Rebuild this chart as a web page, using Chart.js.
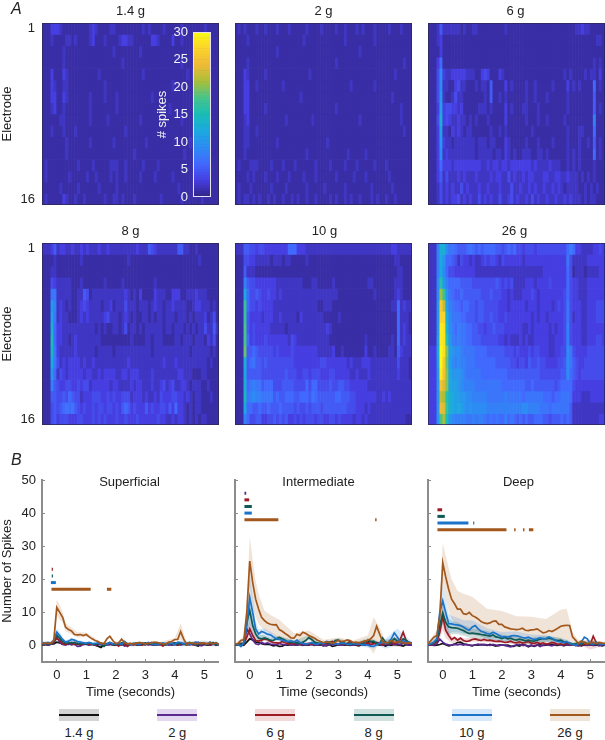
<!DOCTYPE html>
<html>
<head>
<meta charset="utf-8">
<title>Spikes by force</title>
<script src="https://cdn.jsdelivr.net/npm/chart.js@4"></script>
<style>
html, body { margin: 0; padding: 0; background: #fff; width: 605px; height: 740px; overflow: hidden; }
canvas, .txt, .key { position: absolute; }
canvas.soft { filter: blur(.55px); }
canvas.line { filter: blur(.3px); }
.txt { font-family: "Liberation Sans", sans-serif; color: #222; font-style: italic; font-size: 16px; line-height: 18px; }
.key .lbl { position: absolute; top: 16px; left: -10px; width: 60px; text-align: center; font: 13px/16px "Liberation Sans", sans-serif; color: #222; }
.key .band { position: absolute; left: 0; top: 0; width: 40px; height: 12px; }
.key .mid { position: absolute; left: 0; top: 5px; width: 40px; height: 2px; }
</style>
</head>
<body>
<script>
// force levels
const forces = ["1.4 g", "2 g", "6 g", "8 g", "10 g", "26 g"];
const lineColors = ["#111111", "#5b2a91", "#9c1c24", "#0f5a54", "#1b74c9", "#a2581c"];
const bandColors = ["rgba(60,60,60,.22)", "rgba(100,40,170,.18)", "rgba(190,40,50,.18)", "rgba(15,100,90,.2)", "rgba(30,130,225,.18)", "rgba(170,100,40,.18)"];
const electrodeTicks = ["1", "16"];

// time bins in seconds
const timeBins = [-.5,-.4,-.3,-.2,-.1, 0,.1,.2,.3,.4,.5,.6,.7,.8,.9, 1,1.1,1.2,1.3,1.4,1.5,1.6,1.7,1.8,1.9, 2,2.1,2.2,2.3,2.4,2.5,2.6,2.7,2.8,2.9, 3,3.1,3.2,3.3,3.4,3.5,3.6,3.7,3.8,3.9, 4,4.1,4.2,4.3,4.4,4.5,4.6,4.7,4.8,4.9, 5,5.1,5.2,5.3,5.4,5.5];

// heatmaps, one string per electrode, one base 36 digit per bin = # spikes
const heat14 = [
"1113332111 1111112321 1112211111 1111212111 1211111211 1111121111",
"1112111122 1211112311 1211112332 2111111332 1111311211 1111111111",
"1111111211 1111111111 1111211111 1112111111 1111111111 1111211111",
"1111111211 1111111111 1111111211 1111111111 1111111211 1111111111",
"1113111321 1111111112 1111111111 1111211111 1111111112 1211111111",
"1113211221 1111111111 1211111111 1111111111 1111211111 1111111111",
"1113311321 1111112111 1211121111 1111111211 1111111111 1121111111",
"1112311211 1111112111 1111121111 1111111111 1112111111 1111111111",
"1111112211 1111112111 1121111111 1112111111 1111111211 1111111111",
"1112111211 1211111111 1111111121 1111111111 1111111111 1111211111",
"1111111121 1111112111 1111211111 1111121111 1111111111 2111111111",
"1111111121 1111111111 1111111111 1211111111 1111111121 1111111111",
"1211111111 1121111211 1112221121 1111211112 1111111111 1121211111",
"1211111112 1111121121 1112121121 1112111121 1111211111 1111121111",
"1111112111 1121111112 1111121111 1111111111 1111112111 1111112111",
"1211111321 1211211111 1211221211 1211111111 2111111211 1111211111"];
const heat2 = [
"1212111211 2111211121 1111211112 1111211211 1212111211 1121112111",
"1111211111 1111111111 1112111111 1111111211 1111111211 1111111111",
"1111111111 1111211111 1111111111 1111111111 1121111111 1111111111",
"1111211111 1111111111 1111111111 1111211111 1111111111 1111111211",
"1113211111 2111111111 1111121111 1111111111 1111111111 1111211111",
"1113311211 1111112111 1111111111 1111111112 1111111211 1111111111",
"1113311111 1111111111 1121111111 1111111111 1111111111 1112111111",
"1113311111 2111111111 1111111111 1111211111 1111111111 1111112111",
"1112311111 1111111211 1111112111 1111111111 1121111111 1111112111",
"1112211211 1111111111 1111111111 1111111111 1111111111 1111111211",
"1112211111 1111211111 1111111111 1211111111 1111111111 1111111111",
"1112111111 1111111111 1111211111 1111111121 1111211111 1111111111",
"1211122211 1121112111 2111111211 1121111211 1211111211 1211111111",
"1111212111 2111211121 1112111211 1111211111 2111211111 1121111111",
"1211121111 1121111211 1111211111 2111111211 1111112111 1112111111",
"1212212121 1212112112 1211211211 1121211212 1121112121 1211211111"];
const heat6 = [
"1112522222 2121122111 1111112111 1111111111 1111111111 2232211111",
"1112311111 1111111111 1111111111 1111111111 1111111111 1111111221",
"1111311111 1111111111 1111111111 1111111111 1111111111 1111111111",
"1113611111 1111111111 1111111111 1111111111 1111111111 1111112121",
"1114932233 3332221134 3111321111 1111111111 1111112121 1112122131",
"1114922113 4221112122 1511113121 1112112111 1121111312 1211116121",
"1114a21124 2211111112 1511212111 1112112111 2111111211 1111115111",
"1113b34433 2311111222 1211113121 1122111211 1111111211 1111115121",
"1114d34322 3221212111 2111113111 1112111211 2111112111 1111118111",
"1113b22132 3212211111 1211212111 1111121111 1111111211 1221116111",
"1113a32212 2222221222 1221113211 1112111211 1121111211 1211215121",
"1113923222 2222221222 2212213212 1122211221 2111111212 1211116121",
"1113633323 3333333322 3233233233 3333323222 2322211212 1211112111",
"1113524222 3232223222 2323322423 2232332223 3223322322 2121212111",
"1112423232 2423222322 3222322242 2322323223 2232321222 2112121211",
"1112423233 4232322423 2322422342 3223242322 3223223232 2212122111"];
const heat8 = [
"2223523322 3223232223 2232222222 2232225432 2222225522 1121111111",
"1111211111 1112111111 1111111112 1111111111 1111111111 1112111111",
"1112211111 1111111111 1111111111 1111111111 1111111111 1111111111",
"1114322222 1112111111 1211111211 1111111121 1111111111 1111111111",
"1117722222 1122541222 2222222232 1213111132 2211333112 2232221111",
"111a823212 1123432222 1223122242 2212221232 2122322221 1233222121",
"111b723221 1123232222 2342221232 1211221212 2122212221 2122231241",
"111d633222 2222222212 1211221241 2212122222 2122122212 1212242252",
"111f633221 2322222222 1111111111 2111122122 2111122122 2122213241",
"111e732222 2322222212 2222122222 2222222122 2222222222 1222222121",
"111c742323 3332322322 2222222223 2222222222 2322232222 2222221211",
"111a624323 3333233223 2333322332 3332222322 2222223322 2111221111",
"1118543344 3343442333 3332332222 3233222322 3423422332 1222112111",
"1115544546 5442333444 3343433444 2333232232 4333443323 2122111211",
"1114545676 7543433434 4344343565 3433353433 4435363321 2122111111",
"1114534443 3344333434 3433343343 3343333334 3322323321 2121221111"];
const heat10 = [
"2225544344 3333333366 6333222222 2222222222 2222222222 2223322222",
"1114433222 2212221221 1111211111 1111111111 1111111111 1111221111",
"1115222111 1111111111 1111111111 1111111111 1111111111 1111122111",
"1118544333 3333222222 2221112211 1112111111 1111122111 1111222111",
"111c644543 3433232222 2222222222 2222211111 1111111211 1111232111",
"111h644343 3332222222 2222222211 2221111111 1111111111 1112262322",
"111h533332 3332232222 2132222222 1111121111 1111111111 1111162221",
"111i534333 3322222122 2222222222 2321111111 1111111111 1111162321",
"111i634333 4333333324 3222222222 2211111111 1111211111 1112162322",
"111j556544 4443433334 3333333322 2223112111 1111311211 1122153222",
"111d567554 5444444444 3333333334 4333333323 2223332222 2222242221",
"111c555554 4444444544 4334434443 3344333332 2322232222 2222232221",
"111d678775 6664445555 4444646644 4454455443 3333322222 2222222222",
"111e789887 7775655666 5566657655 5555665554 4333333322 3232222222",
"111c665565 5655565555 4544545554 5555555544 4333232222 2222222222",
"1118644553 3445454533 4343444344 3344343333 2332322222 2222222211"];
const heat26 = [
"2228dd9776 5556765656 6665545656 4434443444 4444444686 3322223343",
"2228ca6654 2433232234 3443243333 3323333333 3333333742 2222333333",
"2228c96443 3333332222 2222222222 2222222223 3333333641 2221222233",
"2229ga8666 6555544444 4445434342 2223332333 3433333643 3222333333",
"2229lha765 5655555544 4544433232 2233343233 3333334643 3222333333",
"222aqmb876 6566554554 4444333233 3332333233 3323434743 3322333444",
"222arrd977 7665554554 4544334333 3333323233 2333334742 3322333444",
"222atse986 8776655443 4454443333 3322323333 3232334843 3322333333",
"222btsga87 8776655544 4444332322 2323223333 3223334843 3322333443",
"333cuskba9 9877776666 5555554443 4333434433 3223344974 3333444444",
"333buqjb98 9887776666 6665555544 3443544544 3333445975 4334444444",
"333atpkcaa a987777766 6666666555 5555555544 4444455965 4344444444",
"333apnkcbb a988887777 7777766666 6665565555 5554566664 3333333333",
"333amlgdcb baa9988888 7777778777 7767777776 6656677763 3322233333",
"333aonhdcb cba9a99999 8888888888 8899888877 7677777752 2222222222",
"333ailfa98 8887787887 6767668676 5656556665 5455565652 2222222233"];

// mean spikes per bin, order: 1.4 g, 2 g, 6 g, 8 g, 10 g, 26 g
const superficial14 = [.2,.3,.1,.4,.5, 1,.8,.4,.5,.3,.6,.9,.4,.2,.3, .5,.2,.3,.1,-.2,-.6,.2,.3,.4,.2, .1,.3,.2,.4,.1,.3,.5,.2,.1,.4, .2,.6,.3,.1,.2,.4,.1,.3,.5,.2, .3,.1,.6,.4,.2,.3,.5,.1,-.2,.4, .3,.1,.2,.5,.1,.3];
const superficial2 = [.3,.5,.1,.4,.8, 2.5,1,.3,.1,.5,.2,.4,-.3,-.2,.4, .3,.2,.5,.1,.3,.4,.2,.1,.3,.5, .2,.3,.4,-.2,.1,.3,.2,.4,.1,.3, .5,.2,.3,.1,.4,.2,.5,.3,.1,.2, .4,.6,.1,.3,.5,.2,.4,.1,.3,-.1, .2,.5,.1,.3,.4,.2];
const superficial6 = [.6,.3,.8,.5,.9, 2.2,1.5,.6,.3,.8,.5,.3,.6,.2,.7, .4,.3,.5,.2,.6,.8,.1,.4,.7,.3, .5,-.2,.6,.3,-.3,.5,.2,.7,.4,.1, .6,.3,.9,.5,.2,.4,-.2,.6,.3,.5, .8,.1,.4,.6,.3,.7,.2,.5,.9,.3, .4,.6,.1,.7,.3,.5];
const superficial8 = [.5,.7,.4,.6,1.2, 3.2,2.2,1.2,.8,.7,.9,.8,.6,.5,.7, .4,.8,.6,.3,.7,.2,-.3,.5,.9,.4, .6,.3,.8,1,.4,.3,.5,.7,.2,.5, .8,.4,.6,.3,.9,.5,.4,.2,.6,.5, .8,.4,.7,.3,.5,.9,.6,.2,.4,.8, .5,.3,.6,.9,.2,.5];
const superficial10 = [.8,.5,.9,.6,1.5, 4,3,1.8,1,1.3,1.8,1.6,1.2,1,.8, .7,.9,.5,.6,.8,.4,.6,.3,.9,.5, .4,.7,.3,1.2,.5,.2,.7,.5,.3,.8, .4,.9,.6,.3,.2,.5,.8,.4,.5,.7, .3,1,.9,.5,.7,.3,.6,1,.9,.5, .8,.3,1,.4,.9,.2];
const superficial26 = [.5,.8,.6,.7,1.5, 11.5,10,8.5,5.5,4.8,4.4,3.3,3.2,3.3,3, 3.3,2.6,2,1.5,1.2,.6,.5,2,2.8,1.5, .5,.8,1.9,.8,.5,.6,.4,.7,.9,.7, .5,.6,.8,1,.9,.7,.4,.5,1,1.2, 1.8,1.8,4.2,2,.4,.8,.8,.5,.6,.8, .7,.4,.9,.5,.8,.3];

const intermediate14 = [.1,.2,0,.1,1, 2,1.7,1,.9,.5,.3,.4,.2,-.1,.1, -.3,-.2,.2,.1,.3,.2,.1,.3,0,.2, .1,.3,0,.2,.1,.2,-.1,.3,-.3,-.1, .2,.3,.1,.2,0,.2,.1,-.1,.3,.1, 1,1.2,.9,.4,.1,.3,-.2,.2,.1,.3, .2,.1,-.2,.3,.1,.2];
const intermediate2 = [.1,.3,.2,.5,5, 3.5,1.6,.5,.3,1,.5,.8,.4,.3,.2, .6,.3,.2,.4,.1,.3,.2,.4,.1,.3, .2,.5,.1,.2,.3,-.2,.1,.3,.2,.4, .2,.1,.3,.4,.2,.1,.3,.2,.5,.1, .4,.2,.6,.8,.3,.1,.4,.2,.6,.3, .5,.2,.8,.3,.1,.2];
const intermediate6 = [.4,.1,.6,.5,2.5, 5,3,1.5,1.3,1.6,2,1.8,1.2,.9,.8, .7,1.2,.8,.5,.6,.5,.9,.4,.7,.3, .6,.4,.8,.5,.3,.4,.6,.9,1.2,.5, .4,.7,.3,.5,1.3,.6,.4,.2,1,.4, .8,.3,.5,.9,.6,.2,.7,.4,1,.6, 1,1.8,4,1.5,.8,.6];
const intermediate8 = [.3,.2,.5,.6,7, 10.5,6,3.5,2.2,2,2.3,2,1.6,1.5,2, 2.4,2,1.6,1,.9,1,.7,.6,1,1.5, 2.4,1.8,1,.7,.5,.6,.9,.7,.5,1.5, 1.7,.8,.7,.4,.6,.4,.8,.7,.5,1, 1.6,1.2,1.3,.7,.5,2.3,1,.6,1,2.1, 1.3,.9,2,1.6,.8,.6];
const intermediate10 = [.2,.4,-.3,.8,6, 14.5,10,5,3.5,4.2,3.9,3.4,3.2,2.6,2, 1.8,1.6,1.3,1.2,1.4,1,1.6,.9,.6,.4, .6,.9,.5,.4,.8,.5,1.2,1,.6,.5, .4,.7,.6,.4,.3,.6,.4,.5,.2,.3, .1,-.2,-.3,.2,.6,1.2,.5,.9,2,3.8, 2.6,1,1.4,.9,1,.5];
const intermediate26 = [.3,.6,1.5,1.8,10, 25.5,19,14,11,8.5,7.5,6.8,6.4,6.2,6.3, 4.8,4.3,3.6,3,2.3,2.2,3.4,3,4,3.6, 3,2.6,2.2,1.6,1.2,.9,1,1,.7,.9, 1.6,1.2,1.3,1.7,1.5,.9,1,.8,1,1.4, 1.5,2,3,5.8,3.5,1.2,.8,.9,1.5,.9, 1,1.2,.8,.7,.8,.6];

const deep14 = [.1,.2,0,.1,.3, .6,.2,-.1,.1,.4,.9,1,.5,.3,.1, -.1,.2,.1,.3,.2,0,.3,.1,-.2,.1, .2,0,.1,-.2,-.3,.1,-.2,.2,.1,-.4, 0,-.3,.1,.2,0,.1,.2,.3,.1,0, .3,-.1,.2,.1,.2,0,.1,-.1,.2,.1, .2,0,.1,.2,-.1,.1];
const deep2 = [0,.2,.1,.5,1.9, 1,.4,.2,.1,.3,.2,.4,.1,.3,.1, 0,.2,.4,.1,.3,.2,0,.3,.1,-.1, .2,.1,-.2,-.4,-.1,.2,.3,0,.1,-.2, .1,-.1,.2,-.3,.1,.3,.1,-.1,.2,.3, .2,.1,.3,0,.2,.1,-.1,.2,.3,0, .2,.1,.3,-.1,.2,.1];
const deep6 = [.1,.3,.6,1,4, 8.7,4.6,3,1.8,2.4,1.6,2.2,1.5,1.2,1.4, 1.8,2,1.7,1.5,1.8,1.5,1.6,1.4,1.2,1.3, 1.2,.9,1,1.3,.9,.8,1.1,.7,.9,1.2, .7,.6,.9,.5,.8,.4,.6,.9,.7,.3, .5,.2,.7,.4,.1,.3,.6,.2,.4,.5, .3,2.8,.9,.4,.6,.3];
const deep8 = [.3,.4,.8,1.5,6, 9.8,7,5.6,5.4,5.3,5.2,4.8,4.5,4,3.6, 3.7,3.6,3.5,3.3,3.2,3,2.8,3.2,2.6,2.4, 2.1,2.4,2,2.2,1.8,1.6,1.9,1.7,1.4,1.6, 1.4,1.3,1.6,1.9,2.1,2,2.2,2,1.7,1.5, 1.6,1.1,.9,.7,.5,.4,.8,.3,1,.6, .4,.7,.3,.6,.5,.4];
const deep10 = [.2,.5,1,2,10, 13.5,10,6.6,6.5,6.3,6.2,6,5.6,5,4.6, 5.6,6,5,4.3,4,3.6,3.4,4,3.6,3.1, 2.6,2.7,2.5,2.8,3,2.9,2.7,2.4,2.2,2.5, 2.1,1.8,2,2.3,2,2.1,2.6,2.2,1.5,1.2, 1.1,.8,1.2,.6,.3,0,.5,1,2.5,2, .6,.4,1,.5,.3,.5];
const deep26 = [.5,1.5,2.5,3,9, 25,20.7,17,14,12.6,11,11,9.6,9.4,10, 9,8.6,8,7.2,6.8,6.6,6.8,7.3,7.4,6.4, 6.4,5.6,5.3,5,4.9,4.8,4.9,5.2,4.6,4.5, 4.7,4.8,5,4.4,3.8,4,4.5,4.2,4.7,5.2, 5.8,6,6.1,6,2.6,1.6,.6,1.4,.8,.5, .8,1,.6,.9,.7,.6];

// shaded error half widths, read at these bins only
const bandBins = [0,3,4,5,6,7,8,10,12,15,20,25,30,35,40,45,47,49,51,55,60];
const superficial10Sem = [.6,.6,.8,1.2,1,.6,.5,.5,.5,.5,.5,.4,.5,.5,.5,.5,.5,.6,.6,.7,.6];
const superficial26Sem = [.4,.5,.8,2.4,2.2,1.5,1.2,1,.8,.6,.4,.8,.4,.4,.4,.4,2.5,.6,.4,.4,.4];
const intermediate6Sem = [.3,.5,1.5,2.5,1.8,.8,.6,.6,.4,.4,.4,.4,.5,.5,.4,.4,.5,.5,.6,1.5,.5];
const intermediate8Sem = [.3,.5,3,4.5,3,1.5,1,.8,.7,.6,.5,.7,.4,.5,.4,.6,.6,.5,.8,1.2,.4];
const intermediate10Sem = [.3,.8,4,7,5,2.5,1.5,1.2,1,.7,.6,.5,.5,.4,.5,.8,.6,.8,1.5,2.5,.6];
const intermediate26Sem = [.3,1,4,7.5,7,5.5,4.5,3,2.8,3,1.5,1.5,.8,.8,.6,1.5,5.5,2,.6,.7,.4];
const deep6Sem = [.2,.4,2,4,2.5,1.5,1,.8,.6,.6,.5,.4,.4,.4,.4,.3,.3,.3,.3,1.5,.3];
const deep8Sem = [.3,.6,2.5,3.5,3,2.5,2,1.8,1.6,1.5,1.4,1.2,1,1,.9,.7,.5,.4,.4,.4,.3];
const deep10Sem = [.3,.8,4,5,4.5,3,2.5,2.2,2,2,1.6,1.5,1.3,1.2,1,1,.6,.5,.6,.5,.4];
const deep26Sem = [.5,1.5,3,6,6.5,6.5,6,5.5,6,5.7,4.5,4,4,4,4,5,5,1.5,1,.8,.5];

// significance bars: force index, height, then from/to pairs in seconds
const superficialSig = [[5,17,-.18,1.15,1.7,1.85],[4,19,-.2,-.03],[3,21,-.17,-.13],[2,23,-.17,-.13]];
const intermediateSig = [[5,38,-.18,.97,4.25,4.3],[4,40,-.18,.07],[3,42,-.18,.07],[2,44,-.18,-.02],[1,46,-.18,-.12]];
const deepSig = [[5,35,-.18,2.16,2.42,2.47,2.72,2.77,2.92,3.07],[4,37,-.18,.87,1.03,1.07],[3,39,-.18,.07],[2,41,-.18,-.02]];

const spikeTicks = [0,10,20,30,40,50];
const timeTicks = [0,1,2,3,4,5];
const colorbarTicks = 5;
const colorbarMax = 30;

Chart.defaults.font.family = '"Liberation Sans", sans-serif';
Chart.defaults.font.size = 13;
Chart.defaults.color = '#222';
Chart.defaults.animation = false;

// y tick labels must not push the plot area in
const flatTicks = { size: 13, lineHeight: .1 };

// parula, roughly
const parulaStops = [[50,38,135],[70,62,225],[66,105,254],[45,140,243],[28,169,223],[25,189,182],[72,196,137],[170,191,57],[240,186,55],[250,212,42],[249,251,20]];
function parula(v) {
    const t = Math.max(0, Math.min(1, v / colorbarMax)) * 10;
    const i = Math.min(9, Math.floor(t));
    const f = t - i;
    const c = parulaStops[i].map((a, k) => Math.round(a + (parulaStops[i + 1][k] - a) * f));
    return 'rgb(' + c.join(',') + ')';
}

const caption = {
    id: 'caption',
    afterDraw(chart, args, opts) {
        if (!opts.text) return;
        const a = chart.chartArea, ctx = chart.ctx;
        ctx.save();
        ctx.font = '13px "Liberation Sans", sans-serif';
        ctx.fillStyle = '#222';
        ctx.textAlign = 'center';
        ctx.textBaseline = 'middle';
        ctx.fillText(opts.text, (a.left + a.right) / 2 + (opts.dx || 0), a.top + opts.dy);
        ctx.restore();
    }
};
const outline = {
    id: 'outline',
    afterDraw(chart, args, opts) {
        const a = chart.chartArea, ctx = chart.ctx;
        ctx.save();
        ctx.strokeStyle = opts.color;
        ctx.lineWidth = 1;
        ctx.strokeRect(a.left + .5, a.top + .5, a.right - a.left - 1, a.bottom - a.top - 1);
        ctx.restore();
    }
};

function newCanvas(x, y, w, h, cls) {
    const c = document.createElement('canvas');
    c.width = w; c.height = h;
    c.className = cls;
    c.style.left = x + 'px'; c.style.top = y + 'px';
    c.style.width = w + 'px'; c.style.height = h + 'px';
    document.body.appendChild(c);
    return c;
}

function heatPanel(name, rows, x, y, showY, dx) {
    const L = showY ? 42 : 0, T = 20, W = 177, H = 182, B = 20;
    const grid = rows.map(r => r.replace(/ /g, '').split('').map(ch => parseInt(ch, 36)));
    new Chart(newCanvas(x - L, y - T, W + L, H + T + B, 'soft'), {
        type: 'bar',
        data: {
            labels: timeBins.slice(0, 60),
            datasets: grid.map(vals => ({
                data: vals.map(() => 1),
                backgroundColor: vals.map(parula),
                borderWidth: 0,
                barPercentage: 1,
                categoryPercentage: 1
            }))
        },
        options: {
            responsive: false,
            layout: { padding: { top: T, bottom: B } },
            plugins: {
                legend: { display: false }, tooltip: { enabled: false },
                caption: { text: name, dy: -12, dx: dx },
                outline: { color: 'rgba(45,40,85,.8)' }
            },
            scales: {
                x: {
                    stacked: true,
                    border: { display: false },
                    grid: { drawOnChartArea: false, tickLength: -3, offset: false, color: 'rgba(30,30,80,.8)' },
                    ticks: { display: false, autoSkip: false },
                    afterBuildTicks: s => { s.ticks = [4.5, 14.5, 24.5, 34.5, 44.5, 54.5].map(value => ({ value })); },
                    afterFit: s => { s.height = 0; }
                },
                y: {
                    stacked: true, reverse: true, min: 0, max: 16,
                    display: showY,
                    border: { display: false },
                    grid: { display: false, drawTicks: false },
                    title: { display: true, text: 'Electrode', padding: 0 },
                    ticks: { padding: 7, font: flatTicks, callback: v => v === .5 ? electrodeTicks[0] : electrodeTicks[1] },
                    afterBuildTicks: s => { s.ticks = [.5, 15.5].map(value => ({ value })); },
                    afterFit: s => { s.width = L; }
                }
            }
        },
        plugins: [caption, outline]
    });
}

function bandSets(series, sems, firstIndex) {
    const sets = [];
    sems.forEach(([idx, sem]) => {
        const at = firstIndex + sets.length;
        const band = sign => bandBins.map((b, k) => ({ x: timeBins[b], y: series[idx][b] + sign * sem[k] }));
        sets.push({ data: band(1), borderWidth: 0, pointRadius: 0, fill: at + 1, backgroundColor: bandColors[idx] });
        sets.push({ data: band(-1), borderWidth: 0, pointRadius: 0, fill: false });
    });
    return sets;
}

function linePanel(name, series, sems, sig, x, showY, dx) {
    const L = showY ? 42 : 2, T = 10, W = 177, H = 182, B = 38;
    const sets = [];
    sig.forEach(s => {
        const pts = [];
        for (let i = 2; i < s.length; i += 2) {
            pts.push({ x: s[i], y: s[1] }, { x: s[i + 1], y: s[1] }, { x: s[i + 1], y: null });
        }
        sets.push({ data: pts, borderColor: lineColors[s[0]], borderWidth: 3, pointRadius: 0, spanGaps: false, borderCapStyle: 'butt' });
    });
    [5, 4, 3, 2, 1, 0].forEach(i => sets.push({
        data: series[i], borderColor: lineColors[i], borderWidth: 1.7, pointRadius: 0, tension: 0
    }));
    sets.push(...bandSets(series, sems, sets.length));
    new Chart(newCanvas(x - L, 480 - T, W + L, H + T + B, 'line'), {
        type: 'line',
        data: { labels: timeBins, datasets: sets },
        options: {
            responsive: false,
            layout: { padding: { top: T } },
            plugins: {
                legend: { display: false }, tooltip: { enabled: false },
                caption: { text: name, dy: 2, dx: dx }
            },
            scales: {
                x: {
                    type: 'linear', min: -.5, max: 5.5,
                    border: { color: '#8c8c8c', width: 2 },
                    grid: { drawOnChartArea: false, tickLength: -3, color: '#8c8c8c' },
                    ticks: { padding: 9, maxRotation: 0 },
                    title: { display: true, text: 'Time (seconds)', padding: 0 },
                    afterBuildTicks: s => { s.ticks = timeTicks.map(value => ({ value })); },
                    afterFit: s => { s.height = B; }
                },
                y: {
                    min: -5, max: 50,
                    border: { color: '#8c8c8c', width: 2 },
                    grid: { drawOnChartArea: false, tickLength: -3, color: '#8c8c8c' },
                    ticks: { display: showY, padding: 9, font: flatTicks },
                    title: { display: showY, text: 'Number of Spikes', padding: 0 },
                    afterBuildTicks: s => { s.ticks = spikeTicks.map(value => ({ value })); },
                    afterFit: s => { s.width = L; }
                }
            }
        },
        plugins: [caption]
    });
}

heatPanel(forces[0], heat14, 42, 23, true, 0);
heatPanel(forces[1], heat2, 235, 23, false, 0);
heatPanel(forces[2], heat6, 428, 23, false, -1);
heatPanel(forces[3], heat8, 42, 243, true, 0);
heatPanel(forces[4], heat10, 235, 243, false, 1);
heatPanel(forces[5], heat26, 428, 243, false, -2);

// colour bar sitting on the 1.4 g panel
const barLevels = [];
for (let v = 0; v < colorbarMax; v += .5) barLevels.push(v);
new Chart(newCanvas(155, 26, 56, 177, 'line'), {
    type: 'bar',
    data: {
        labels: ['# spikes'],
        datasets: barLevels.map(v => ({
            data: [.5], backgroundColor: parula(v + .25), borderWidth: 0, barPercentage: 1, categoryPercentage: 1
        }))
    },
    options: {
        responsive: false,
        layout: { padding: { top: 6, bottom: 6 } },
        plugins: { legend: { display: false }, tooltip: { enabled: false }, outline: { color: '#e6e2ee' } },
        scales: {
            x: { stacked: true, display: false },
            y: {
                stacked: true, min: 0, max: colorbarMax,
                border: { display: false },
                grid: { display: false, drawTicks: false },
                ticks: { stepSize: colorbarTicks, color: '#f2f2f6', padding: 5, font: flatTicks },
                title: { display: true, text: '# spikes', color: '#f2f2f6', padding: 0 },
                afterFit: s => { s.width = 38; }
            }
        }
    },
    plugins: [outline]
});

linePanel('Superficial', [superficial14, superficial2, superficial6, superficial8, superficial10, superficial26],
    [[4, superficial10Sem], [5, superficial26Sem]], superficialSig, 42, true, -1);
linePanel('Intermediate', [intermediate14, intermediate2, intermediate6, intermediate8, intermediate10, intermediate26],
    [[2, intermediate6Sem], [3, intermediate8Sem], [4, intermediate10Sem], [5, intermediate26Sem]], intermediateSig, 235, false, -5);
linePanel('Deep', [deep14, deep2, deep6, deep8, deep10, deep26],
    [[2, deep6Sem], [3, deep8Sem], [4, deep10Sem], [5, deep26Sem]], deepSig, 428, false, 2);

// panel letters
[['A', 11, 0], ['B', 11, 451]].forEach(([t, x, y]) => {
    const d = document.createElement('div');
    d.className = 'txt'; d.textContent = t;
    d.style.left = x + 'px'; d.style.top = y + 'px';
    document.body.appendChild(d);
});

// legend
forces.forEach((f, i) => {
    const k = document.createElement('div');
    k.className = 'key';
    k.style.left = (59 + i * 98.2) + 'px'; k.style.top = '709px';
    k.innerHTML = '<div class="band"></div><div class="mid"></div><div class="lbl"></div>';
    k.children[0].style.background = bandColors[i];
    k.children[1].style.background = lineColors[i];
    k.children[2].textContent = f;
    document.body.appendChild(k);
});
</script>
</body>
</html>
